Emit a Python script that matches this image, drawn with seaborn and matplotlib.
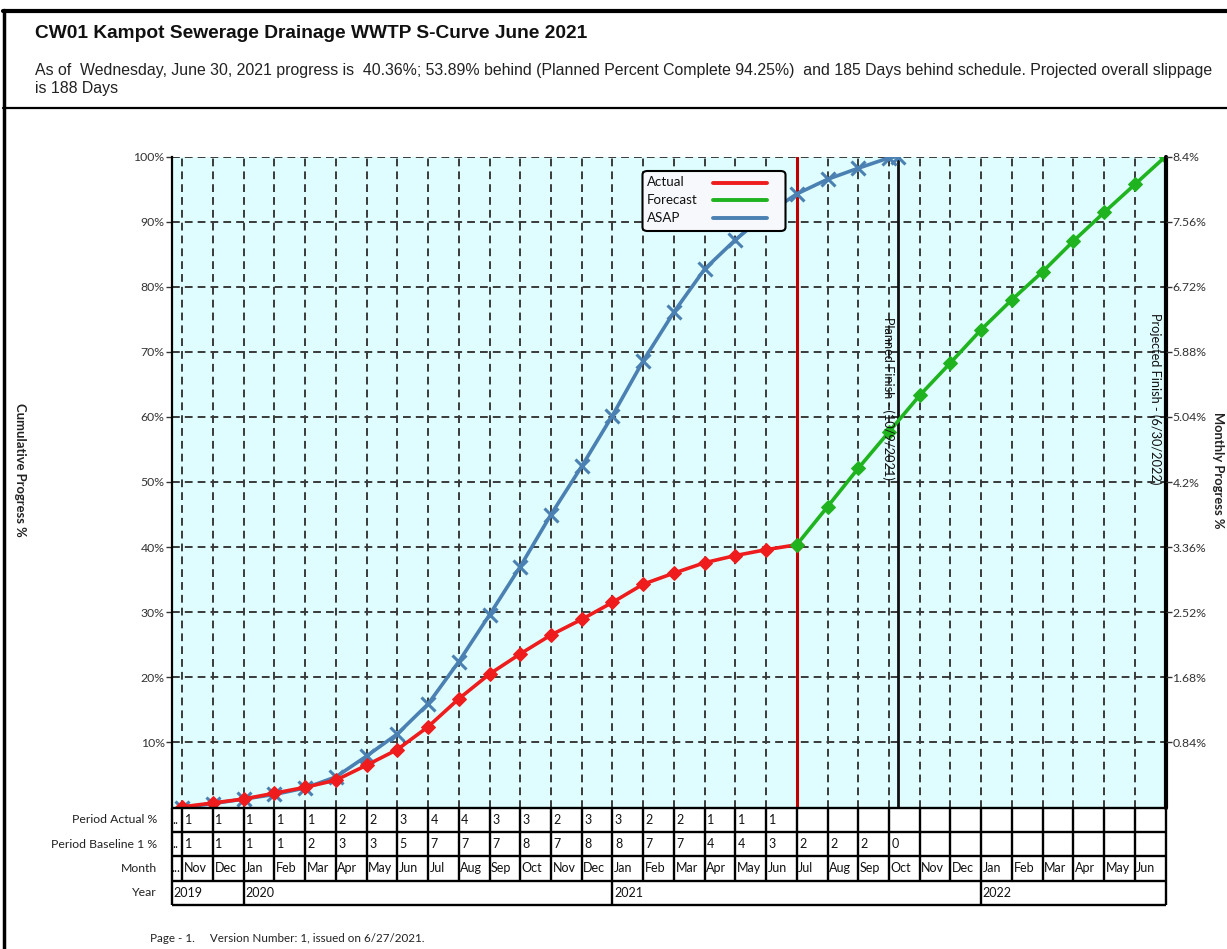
import matplotlib
matplotlib.use("Agg")
import matplotlib.pyplot as plt
import pandas as pd
import seaborn as sns
from matplotlib.lines import Line2D
from matplotlib.patches import FancyBboxPatch

# ---- data (x = months after the end of October 2019) ----
actual_month = list(range(0, 21))
actual_pct = [0.1, 0.7, 1.3, 2.2, 3.1, 4.2, 6.5, 8.9, 12.4, 16.7, 20.5,
              23.6, 26.5, 28.9, 31.5, 34.3, 36.0, 37.6, 38.7, 39.6, 40.36]

asap_month = list(range(0, 24)) + [23.29]
asap_pct = [0.0, 0.6, 1.3, 2.0, 3.0, 4.7, 7.9, 11.3, 15.9, 22.4, 29.6, 37.0,
            45.0, 52.4, 60.2, 68.6, 76.1, 82.7, 87.2, 91.1, 94.25, 96.5,
            98.2, 99.8, 100.0]

forecast_month = list(range(20, 33))
forecast_pct = [40.36, 46.2, 52.1, 57.7, 63.3, 68.3, 73.4, 78.0, 82.3, 87.0,
                91.4, 95.7, 100.0]

month_labels = ["Nov", "Dec", "Jan", "Feb", "Mar", "Apr", "May", "Jun", "Jul",
                "Aug", "Sep", "Oct", "Nov", "Dec", "Jan", "Feb", "Mar", "Apr",
                "May", "Jun", "Jul", "Aug", "Sep", "Oct", "Nov", "Dec", "Jan",
                "Feb", "Mar", "Apr", "May", "Jun"]
period_actual = [1, 1, 1, 1, 1, 2, 2, 3, 4, 4, 3, 3, 2, 3, 3, 2, 2, 1, 1, 1]
period_baseline = [1, 1, 1, 1, 2, 3, 3, 5, 7, 7, 7, 8, 7, 8, 8, 7, 7, 4, 4, 3,
                   2, 2, 2, 0]
year_labels = ["2019", "2020", "2021", "2022"]
year_starts = [-0.35, 2, 14, 26]

left_ticks = [10, 20, 30, 40, 50, 60, 70, 80, 90, 100]
right_ticks = [0.84, 1.68, 2.52, 3.36, 4.2, 5.04, 5.88, 6.72, 7.56, 8.4]
right_tick_labels = ["0.84%", "1.68%", "2.52%", "3.36%", "4.2%", "5.04%",
                     "5.88%", "6.72%", "7.56%", "8.4%"]

legend_labels = ["Actual", "Forecast", "ASAP"]

data_date = 20
planned_finish = 23.29
projected_finish = 32

# ---- style ----
sns.set_theme(style="white")
plt.rcParams["font.family"] = ["Lato", "DejaVu Sans"]

W, H = 1227, 949
fig = plt.figure(figsize=(W / 100, H / 100), dpi=100)
fig.patch.set_facecolor("white")


def fx(px):
    return px / W


def fy(py):
    return 1 - py / H


RED = "#EE1C1C"
GREEN = "#1FB31F"
BLUE = "#4A80B2"
XMIN, XMAX = -0.35, 32

ax = fig.add_axes([fx(171.5), fy(807.5), fx(1165.5) - fx(171.5), fy(156.5) - fy(807.5)])
ax.set_facecolor("#DFFDFE")
ax.set_xlim(XMIN, XMAX)
ax.set_ylim(0, 100)

# dashed grid at every month end and every 10 %
grid_kw = dict(color="#3A3A3A", lw=1.4, ls=(0, (4, 2.6)), zorder=1)
for m in range(0, 32):
    ax.axvline(m, **grid_kw)
for p in left_ticks:
    ax.axhline(p, **grid_kw)

df_actual = pd.DataFrame({"month": actual_month, "pct": actual_pct})
df_asap = pd.DataFrame({"month": asap_month, "pct": asap_pct})
df_fc = pd.DataFrame({"month": forecast_month, "pct": forecast_pct})

sns.lineplot(data=df_asap, x="month", y="pct", ax=ax, color=BLUE, lw=2.6,
             marker="x", markersize=10, markeredgewidth=2.2,
             markeredgecolor=BLUE, legend=False, zorder=4)
sns.lineplot(data=df_actual, x="month", y="pct", ax=ax, color=RED, lw=2.6,
             marker="D", markersize=7, markeredgecolor=RED, legend=False,
             zorder=5)
sns.lineplot(data=df_fc, x="month", y="pct", ax=ax, color=GREEN, lw=2.6,
             marker="D", markersize=7, markeredgecolor=GREEN, legend=False,
             zorder=5)

# status lines
ax.axvline(data_date, color="#C00000", lw=2.2, zorder=3)
ax.axvline(planned_finish, color="#111111", lw=2.0, zorder=3)
ax.axvline(projected_finish, color="#000000", lw=3.0, zorder=6, clip_on=False)

ax.text(planned_finish - 0.12, 75.4, "Planned Finish - (10/9/2021)",
        rotation=270, ha="right", va="top", fontsize=9.2, color="#111111",
        zorder=6)
ax.text(projected_finish - 0.12, 75.9, "Projected Finish - (6/30/2022)",
        rotation=270, ha="right", va="top", fontsize=9.2, color="#111111",
        zorder=6)

ax.set_xlabel("")
ax.set_ylabel("")
ax.set_xticks([])
ax.set_yticks(left_ticks)
ax.set_yticklabels([f"{t}%" for t in left_ticks], fontsize=8.8, color="#333333")
ax.tick_params(axis="y", direction="out", length=4, width=1, color="#333333",
               pad=1, left=True)
for side in ["top", "right", "bottom"]:
    ax.spines[side].set_visible(False)
ax.spines["left"].set_color("black")
ax.spines["left"].set_linewidth(1.6)

ax2 = ax.twinx()
ax2.set_ylim(0, 8.4)
ax2.set_yticks(right_ticks)
ax2.set_yticklabels(right_tick_labels, fontsize=8.8, color="#333333")
ax2.tick_params(axis="y", direction="out", length=4, width=1, color="#333333",
                pad=1, right=True)
ax2.grid(False)
for side in ax2.spines:
    ax2.spines[side].set_visible(False)

# legend box: label text on the left, line sample on the right
box = FancyBboxPatch((fx(642.5), fy(231)), fx(785.5) - fx(642.5), fy(171) - fy(231),
                     boxstyle="round,pad=0,rounding_size=0.004",
                     transform=fig.transFigure, facecolor="#F7F8FC",
                     edgecolor="black", lw=1.5, zorder=10, clip_on=False)
ax2.add_patch(box)
for label, color, ypx in zip(legend_labels, [RED, GREEN, BLUE], [182.5, 200, 217.5]):
    ax2.text(fx(646.5), fy(ypx), label, transform=fig.transFigure, fontsize=9.6,
             va="center", ha="left", color="#111111", zorder=11)
    ax2.add_line(Line2D([fx(713), fx(767)], [fy(ypx), fy(ypx)], color=color,
                        lw=2.8, transform=fig.transFigure, zorder=11,
                        clip_on=False))

# ---- period table under the chart ----
tax = fig.add_axes([fx(171.5), fy(905), fx(1165.5) - fx(171.5), fy(807.5) - fy(905)])
tax.set_xlim(XMIN, XMAX)
tax.set_ylim(0, 4)
tax.axis("off")

line_kw = dict(color="black", lw=1.7, clip_on=False, solid_capstyle="butt")
for r in range(5):
    tax.plot([XMIN, XMAX], [r, r], **line_kw)
for xv in [XMIN] + list(range(0, 33)):
    tax.plot([xv, xv], [1, 4], **line_kw)
for xv in year_starts + [XMAX]:
    tax.plot([xv, xv], [0, 1], **line_kw)

cell_kw = dict(fontsize=9.0, va="center", ha="left", color="#111111")
tax.text(XMIN + 0.02, 3.5, "..", **cell_kw)
tax.text(XMIN + 0.02, 2.5, "..", **cell_kw)
tax.text(XMIN + 0.0, 1.5, "...", **cell_kw)
for i, v in enumerate(period_actual):
    tax.text(i + 0.08, 3.5, str(v), **cell_kw)
for i, v in enumerate(period_baseline):
    tax.text(i + 0.08, 2.5, str(v), **cell_kw)
for i, name in enumerate(month_labels):
    tax.text(i + 0.05, 1.5, name, **cell_kw)
for name, x0 in zip(year_labels, year_starts):
    tax.text(x0 + 0.05, 0.5, name, **cell_kw)

row_kw = dict(fontsize=8.8, va="center", ha="right", color="#222222")
for yv, name in zip([3.5, 2.5, 1.5, 0.5],
                    ["Period Actual %", "Period Baseline 1 %", "Month", "Year"]):
    tax.text(-0.82, yv, name, **row_kw)

# ---- page furniture ----
frame_kw = dict(color="black", transform=fig.transFigure, clip_on=False)
fig.add_artist(Line2D([fx(3), fx(1227)], [fy(11), fy(11)], lw=3, **frame_kw))
fig.add_artist(Line2D([fx(3.5), fx(3.5)], [fy(10), fy(949)], lw=2.5, **frame_kw))
fig.add_artist(Line2D([fx(3), fx(1227)], [fy(108), fy(108)], lw=1.6, **frame_kw))

fig.text(fx(35), fy(33), "CW01 Kampot Sewerage Drainage WWTP S-Curve June 2021",
         fontsize=13.8, fontweight="bold", family=["Liberation Sans", "DejaVu Sans"],
         va="center", ha="left", color="#111111")
sub_kw = dict(fontsize=11.4, family=["Liberation Sans", "DejaVu Sans"],
              va="center", ha="left", color="#222222")
fig.text(fx(35), fy(71),
         "As of  Wednesday, June 30, 2021 progress is  40.36%; 53.89% behind "
         "(Planned Percent Complete 94.25%)  and 185 Days behind schedule. "
         "Projected overall slippage", **sub_kw)
fig.text(fx(35), fy(89), "is 188 Days", **sub_kw)

fig.text(fx(20), fy(470), "Cumulative Progress %", rotation=270, fontsize=9.4,
         fontweight="bold", va="center", ha="center", color="#222222")
fig.text(fx(1224), fy(470), "Monthly Progress %", rotation=270, fontsize=9.4,
         fontweight="bold", va="center", ha="right", color="#222222")

fig.text(fx(150), fy(938), "Page - 1.     Version Number: 1, issued on 6/27/2021.",
         fontsize=8.4, va="center", ha="left", color="#222222")

fig.savefig("out.png", dpi=100)
